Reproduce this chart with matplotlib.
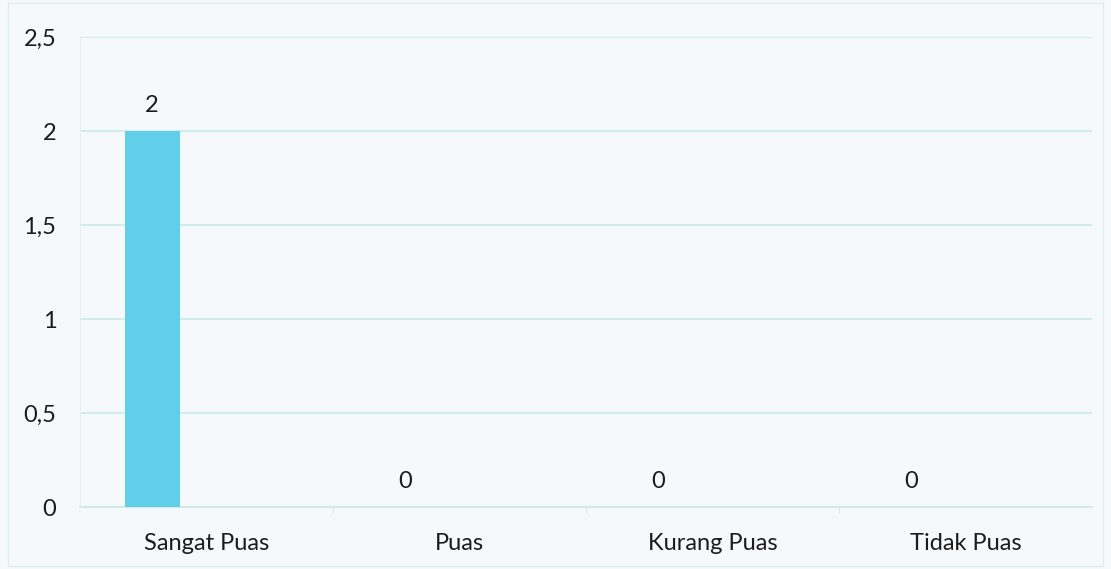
import matplotlib
matplotlib.use("Agg")
import matplotlib.pyplot as plt
from matplotlib.ticker import FuncFormatter

categories = ["Sangat Puas", "Puas", "Kurang Puas", "Tidak Puas"]
values = [2, 0, 0, 0]
yticks = [0, 0.5, 1, 1.5, 2, 2.5]

plt.rcParams['font.family'] = ['Lato', 'DejaVu Sans']
bg = '#f5f9fc'
grid_c = '#c9ebea'
bar_c = '#62cfea'
txt = '#1c1c1c'
fs = 17

fig = plt.figure(figsize=(11.11, 5.69), dpi=100, facecolor=bg)
ax = fig.add_axes([80/1111, 1 - 507/569, (1092-80)/1111, (507-37)/569])
ax.set_facecolor(bg)

x = list(range(len(categories)))
off = -0.215
xb = [i + off for i in x]
ax.bar(xb, values, width=0.217, color=bar_c, zorder=3)
for xi, v in zip(xb, values):
    ax.annotate(f"{v}", (xi, v), xytext=(0, 11), textcoords='offset points',
                ha='center', va='bottom', fontsize=fs, color=txt)

ax.set_xlim(-0.5, len(categories) - 0.5)
ax.set_ylim(0, 2.5)
ax.set_yticks(yticks)
ax.yaxis.set_major_formatter(FuncFormatter(lambda v, p: (f"{v:g}").replace('.', ',')))
ax.set_xticks(x)
ax.set_xticklabels(categories)
ax.tick_params(axis='y', length=0, pad=17, labelsize=fs, labelcolor=txt)
ax.tick_params(axis='x', length=0, pad=19, labelsize=fs, labelcolor=txt)
ax.set_xticks([i + 0.5 for i in x[:-1]], minor=True)
ax.tick_params(axis='x', which='minor', length=4, color=grid_c, direction='out')

ax.grid(axis='y', color=grid_c, linewidth=1.2, zorder=0)
for s in ['top', 'right']:
    ax.spines[s].set_visible(False)
ax.spines['left'].set_color('#e3f1f1')
ax.spines['bottom'].set_color(grid_c)
ax.spines['bottom'].set_linewidth(1.2)

fig.patches.append(plt.Rectangle((8/1111, 3/569), 1 - 16/1111, 1 - 6/569, transform=fig.transFigure,
                                 fill=False, edgecolor='#dcecef', linewidth=1))

fig.savefig('out.png', dpi=100, facecolor=bg)
